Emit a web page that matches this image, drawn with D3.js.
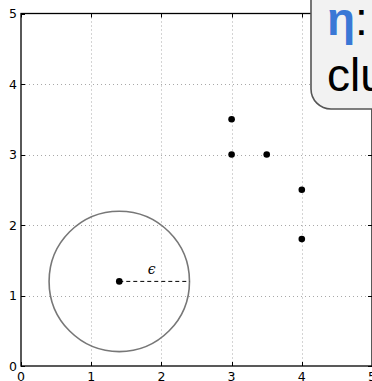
<!DOCTYPE html>
<html>
<head>
<meta charset="utf-8">
<script src="https://cdn.jsdelivr.net/npm/d3@7"></script>
<style>
  html, body { margin: 0; padding: 0; background: #fff; overflow: hidden; }
  svg { display: block; }
</style>
</head>
<body>
<svg id="chart" width="372" height="381"></svg>
<script>
// Sample points for the DBSCAN illustration
const pointX = [3, 3, 3.5, 4, 4, 1.4];
const pointY = [3.5, 3, 3, 2.5, 1.8, 1.2];
// Neighbourhood of the query point
const centerX = 1.4;
const centerY = 1.2;
const epsilon = 1;
// Axis ticks
const xTicks = [0, 1, 2, 3, 4, 5];
const yTicks = [0, 1, 2, 3, 4, 5];
const xDomain = [0, 5];
const yDomain = [0, 5];

const svg = d3.select("#chart");
const x = d3.scaleLinear().domain(xDomain).range([21, 372]);
const y = d3.scaleLinear().domain(yDomain).range([366, 13.5]);

// Dotted grid
const grid = svg.append("g").attr("stroke", "#a8a8a8").attr("stroke-width", 1)
  .attr("stroke-dasharray", "1,3");
grid.selectAll("line.gx").data(xTicks.slice(1, -1)).join("line")
  .attr("class", "gx")
  .attr("x1", d => Math.round(x(d)) + 0.5).attr("x2", d => Math.round(x(d)) + 0.5)
  .attr("y1", y(5)).attr("y2", y(0));
grid.selectAll("line.gy").data(yTicks.slice(1, -1)).join("line")
  .attr("class", "gy")
  .attr("y1", d => Math.round(y(d)) + 0.5).attr("y2", d => Math.round(y(d)) + 0.5)
  .attr("x1", x(0)).attr("x2", x(5));

// Inward tick marks on all four sides
const ticks = svg.append("g").attr("stroke", "#000").attr("stroke-width", 1);
xTicks.forEach(d => {
  const px = Math.round(x(d)) + 0.5;
  ticks.append("line").attr("x1", px).attr("x2", px).attr("y1", y(0)).attr("y2", y(0) - 4);
  ticks.append("line").attr("x1", px).attr("x2", px).attr("y1", y(5)).attr("y2", y(5) + 4);
});
yTicks.forEach(d => {
  const py = Math.round(y(d)) + 0.5;
  ticks.append("line").attr("y1", py).attr("y2", py).attr("x1", x(0)).attr("x2", x(0) + 4);
  ticks.append("line").attr("y1", py).attr("y2", py).attr("x1", x(5)).attr("x2", x(5) - 4);
});

// Frame
svg.append("rect")
  .attr("x", x(0)).attr("y", y(5))
  .attr("width", x(5) - x(0)).attr("height", y(0) - y(5))
  .attr("fill", "none").attr("stroke", "#000").attr("stroke-width", 1.3);

// Tick labels
const font = "'DejaVu Sans', sans-serif";
svg.append("g").selectAll("text").data(xTicks).join("text")
  .attr("x", d => x(d)).attr("y", y(0) + 14.5)
  .attr("text-anchor", "middle")
  .attr("font-family", font).attr("font-size", 12.5).attr("fill", "#000")
  .text(d => d);
svg.append("g").selectAll("text").data(yTicks).join("text")
  .attr("x", x(0) - 4).attr("y", d => y(d) + 4.5)
  .attr("text-anchor", "end")
  .attr("font-family", font).attr("font-size", 12.5).attr("fill", "#000")
  .text(d => d);

// Epsilon neighbourhood circle
svg.append("circle")
  .attr("cx", x(centerX)).attr("cy", y(centerY))
  .attr("r", x(centerX + epsilon) - x(centerX))
  .attr("fill", "none").attr("stroke", "#777").attr("stroke-width", 1.6);

// Radius
svg.append("line")
  .attr("x1", x(centerX)).attr("y1", y(centerY))
  .attr("x2", x(centerX + epsilon)).attr("y2", y(centerY))
  .attr("stroke", "#000").attr("stroke-width", 1)
  .attr("stroke-dasharray", "4,3");
svg.append("text")
  .attr("x", x(centerX + epsilon * 0.46)).attr("y", y(centerY) - 7)
  .attr("text-anchor", "middle")
  .attr("font-family", "'DejaVu Serif', serif").attr("font-style", "italic")
  .attr("font-size", 14).attr("fill", "#000")
  .text("ϵ");

// Points
svg.append("g").selectAll("circle").data(pointX).join("circle")
  .attr("cx", (d, i) => x(d)).attr("cy", (d, i) => y(pointY[i]))
  .attr("r", 3.3).attr("fill", "#000");

// Annotation box
const box = svg.append("g");
box.append("rect")
  .attr("x", 311).attr("y", -30)
  .attr("width", 120).attr("height", 139)
  .attr("rx", 20).attr("ry", 20)
  .attr("fill", "#f2f2f2").attr("stroke", "#555").attr("stroke-width", 1.6);
const t1 = box.append("text")
  .attr("x", 327).attr("y", 35)
  .attr("font-family", "'Liberation Sans', Arial, sans-serif")
  .attr("font-size", 46);
t1.append("tspan").attr("fill", "#3a78d6").attr("font-weight", "bold").text("η");
t1.append("tspan").attr("fill", "#000").text(":");
box.append("text")
  .attr("x", 327).attr("y", 91)
  .attr("font-family", "'Liberation Sans', Arial, sans-serif")
  .attr("font-size", 46).attr("fill", "#000")
  .text("clu");
</script>
</body>
</html>
